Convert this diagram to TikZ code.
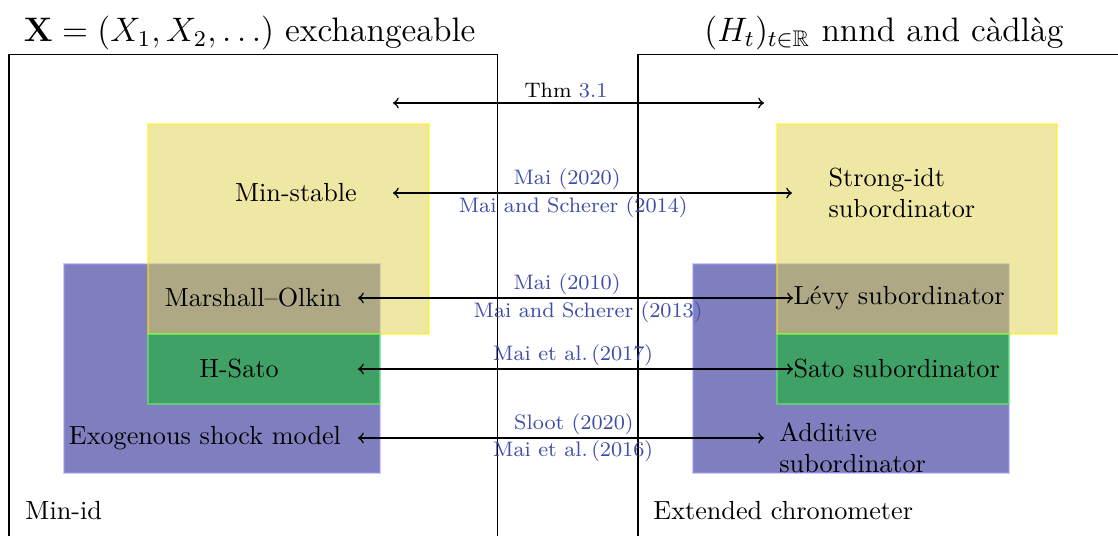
\documentclass[tikz,border=0pt]{standalone}
\usepackage{amssymb}
\usepackage{tikz}

\definecolor{citeblue}{RGB}{62,78,168}
\definecolor{msyellow}{RGB}{224,210,76}
\definecolor{satogreen}{RGB}{0,195,15}

\begin{document}
\begin{tikzpicture}[
                setbox/.style = {thick, fill opacity=0.5, draw opacity=0.5},
                stablebox/.style = {setbox, fill=msyellow, draw=yellow},
                shockbox/.style = {setbox, fill=blue!50!black, draw=blue!40},
                satobox/.style = {setbox, fill=satogreen, draw=green!60},
                title/.style = {font=\large, scale=1.08, transform shape},
                cls/.style = {inner sep=0pt, align=left},
                ref/.style = {font=\footnotesize, text=citeblue, inner sep=1pt},
                link/.style = {<->, semithick}
        ]
        \useasboundingbox (0,0) rectangle (15,-7.19);

        % the two worlds
        \draw (0.121,-7.5) |- (6.68,-0.725) -- (6.68,-7.5);
        \draw (8.56,-7.5) |- (15.5,-0.725);
        \node[title] (xtitle) at (3.35,-0.44) {$\mathbf{X}=(X_1,X_2,\ldots)$ exchangeable};
        \node[title] (htitle) at (11.86,-0.44) {$(H_t)_{t\in\mathbb{R}}$ nnnd and càdlàg};

        % left side
        \draw[shockbox] (0.859,-3.542) rectangle (5.098,-6.346);
        \draw[stablebox] (1.986,-1.664) rectangle (5.756,-4.481);
        \draw[satobox] (1.986,-4.481) rectangle (5.098,-5.420);

        % right side
        \draw[shockbox] (9.298,-3.542) rectangle (13.538,-6.346);
        \draw[stablebox] (10.425,-1.664) rectangle (14.182,-4.481);
        \draw[satobox] (10.425,-4.481) rectangle (13.538,-5.420);

        \node (minstable) at (3.971,-2.59) {Min-stable};
        \node (mo) at (3.394,-3.998) {Marshall--Olkin};
        \node (hsato) at (3.207,-4.951) {H-Sato};
        \node (exo) at (2.75,-5.877) {Exogenous shock model};
        \node[cls, anchor=west] (minid) at (0.335,-6.856) {Min-id};

        \node[cls, anchor=west] (sidt) at (11.11,-2.59) {Strong-idt\\subordinator};
        \node[cls, anchor=west] (levy) at (10.64,-3.998) {Lévy subordinator};
        \node[cls, anchor=west] (sato) at (10.64,-4.951) {Sato subordinator};
        \node[cls, anchor=west] (additive) at (10.45,-6.01) {Additive\\subordinator};
        \node[cls, anchor=west] (chrono) at (8.76,-6.856) {Extended chronometer};

        % arrow ends
        \coordinate (thm-l) at (5.273,-1.382);
        \coordinate (thm-r) at (10.25,-1.382);
        \coordinate (minstable-r) at (5.273,-2.59);
        \coordinate (sidt-l) at (10.626,-2.59);
        \coordinate (mo-r) at (4.803,-3.998);
        \coordinate (hsato-r) at (4.803,-4.951);
        \coordinate (exo-r) at (4.803,-5.877);
        \coordinate (additive-l) at (10.25,-5.877);

        \draw[link] (thm-l) -- (thm-r);
        \draw[link] (minstable-r) -- (sidt-l);
        \draw[link] (mo-r) -- (levy.west);
        \draw[link] (hsato-r) -- (sato.west);
        \draw[link] (exo-r) -- (additive-l);

        \node[ref, text=black] (thm) at (7.594,-1.208) {Thm \textcolor{citeblue}{3.1}};
        \node[ref] (mai20) at (7.607,-2.40) {Mai (2020)};
        \node[ref] (ms14) at (7.69,-2.78) {Mai and Scherer (2014)};
        \node[ref] (mai10) at (7.607,-3.81) {Mai (2010)};
        \node[ref] (ms13) at (7.89,-4.19) {Mai and Scherer (2013)};
        \node[ref] (mai17) at (7.69,-4.76) {Mai et al.\,(2017)};
        \node[ref] (sloot20) at (7.70,-5.69) {Sloot (2020)};
        \node[ref] (mai16) at (7.69,-6.06) {Mai et al.\,(2016)};
\end{tikzpicture}
\end{document}
